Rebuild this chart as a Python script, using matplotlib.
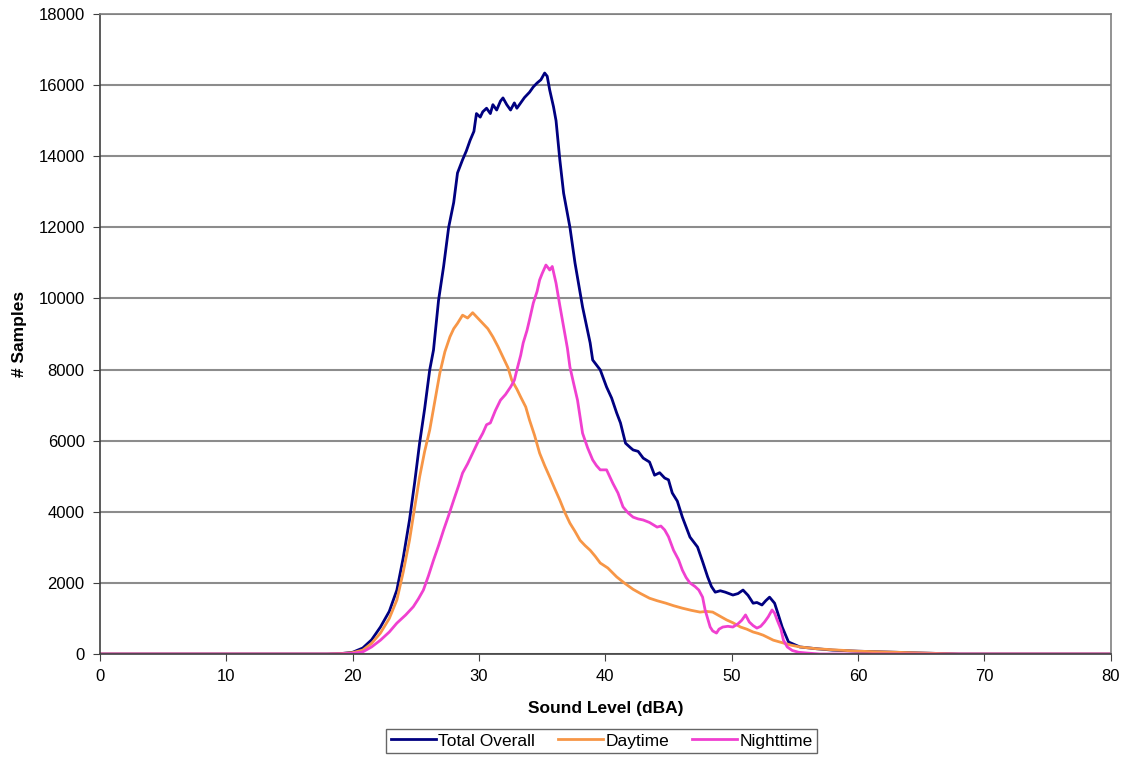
import matplotlib.pyplot as plt

plt.rcParams['font.family'] = ['Liberation Sans', 'DejaVu Sans']

# sound level (dBA) readings
total_x = [0, 18, 19, 20, 20.8, 21.5, 22.2, 22.9, 23.5, 24.0, 24.5, 24.9, 25.3, 25.7, 26.1, 26.4,
           26.8, 27.2, 27.6, 28.0, 28.3, 28.7, 29.0, 29.3, 29.6, 29.8, 30.1, 30.3, 30.6, 30.9,
           31.1, 31.4, 31.7, 31.9, 32.2, 32.5, 32.8, 33.0, 33.3, 33.6, 34.0, 34.3, 34.6, 34.9,
           35.2, 35.4, 35.6, 35.9, 36.1, 36.4, 36.7, 37.2, 37.6, 38.2, 38.8, 39.0, 39.6, 40.1,
           40.5, 40.9, 41.2, 41.6, 42.0, 42.2, 42.6, 43.0, 43.5, 43.9, 44.3, 44.7, 45.0, 45.3,
           45.7, 46.1, 46.7, 47.3, 47.7, 48.1, 48.4, 48.7, 49.1, 49.5, 49.8, 50.1, 50.5, 50.9,
           51.3, 51.7, 52.0, 52.4, 52.7, 53.0, 53.4, 53.7, 54.0, 54.5, 55.4, 56.7, 58, 60, 62,
           64, 66, 68, 80]
total_y = [0, 0, 10, 50, 170, 400, 760, 1200, 1800, 2700, 3770, 4800, 5930, 6900, 7990, 8550,
           9950, 10900, 12000, 12700, 13530, 13900, 14150, 14450, 14700, 15200, 15100, 15250,
           15350, 15200, 15450, 15300, 15550, 15640, 15450, 15300, 15500, 15350, 15500, 15650,
           15800, 15950, 16060, 16150, 16340, 16250, 15860, 15390, 15000, 13900, 12960, 12000,
           11000, 9760, 8750, 8270, 7990, 7510, 7200, 6780, 6500, 5930, 5800, 5740, 5700, 5510,
           5400, 5030, 5100, 4950, 4900, 4530, 4300, 3850, 3290, 3010, 2600, 2170, 1900, 1740,
           1780, 1740, 1700, 1660, 1700, 1800, 1650, 1430, 1450, 1380, 1500, 1600, 1430, 1100,
           760, 340, 200, 150, 110, 80, 60, 40, 20, 0, 0]

day_x = [0, 18, 19, 20, 20.8, 21.5, 22.2, 22.9, 23.5, 24.0, 24.5, 24.9, 25.3, 25.7, 26.1, 26.5,
         26.9, 27.3, 27.7, 28.0, 28.3, 28.7, 29.1, 29.5, 29.9, 30.3, 30.7, 31.1, 31.5, 31.9,
         32.3, 32.6, 33.0, 33.3, 33.7, 34.0, 34.4, 34.8, 35.2, 35.6, 36.0, 36.4, 36.8, 37.2,
         37.6, 38.0, 38.4, 38.8, 39.2, 39.6, 40.2, 40.9, 41.5, 42.2, 42.8, 43.5, 44.1, 44.8,
         45.4, 46.1, 46.8, 47.5, 48.0, 48.5, 49.0, 49.6, 50.1, 50.7, 51.2, 51.7, 52.1, 52.5,
         52.9, 53.3, 53.7, 54.1, 54.7, 55.4, 56.7, 58, 60, 62, 64, 66, 68, 80]
day_y = [0, 0, 10, 40, 110, 300, 590, 1000, 1520, 2300, 3200, 4100, 4980, 5700, 6300, 7100,
         7900, 8500, 8920, 9150, 9300, 9530, 9450, 9600, 9450, 9300, 9150, 8920, 8650, 8350,
         8050, 7700, 7450, 7230, 6950, 6580, 6150, 5650, 5300, 4980, 4650, 4330, 3980, 3680,
         3450, 3200, 3050, 2920, 2750, 2560, 2420, 2170, 2000, 1820, 1700, 1570, 1500, 1430,
         1360, 1290, 1230, 1180, 1200, 1180, 1080, 960, 880, 760, 700, 620, 580, 530, 460, 390,
         350, 310, 250, 200, 150, 120, 80, 60, 40, 20, 0, 0]

night_x = [0, 18, 19, 20, 20.8, 21.5, 22.2, 22.9, 23.5, 24.2, 24.8, 25.2, 25.6, 26.0, 26.4,
           26.8, 27.2, 27.6, 28.0, 28.4, 28.7, 29.1, 29.5, 29.9, 30.3, 30.6, 30.9, 31.3, 31.7,
           32.1, 32.5, 32.8, 33.0, 33.3, 33.5, 33.8, 34.0, 34.3, 34.6, 34.8, 35.0, 35.3, 35.5,
           35.6, 35.8, 36.1, 36.4, 36.7, 37.0, 37.2, 37.5, 37.8, 38.2, 38.6, 39.0, 39.3, 39.6,
           40.1, 40.6, 41.0, 41.4, 41.8, 42.2, 42.6, 43.0, 43.5, 44.1, 44.4, 44.7, 45.0, 45.4,
           45.8, 46.1, 46.4, 46.7, 47.1, 47.4, 47.7, 47.9, 48.1, 48.3, 48.5, 48.8, 49.0, 49.3,
           49.7, 50.1, 50.5, 50.8, 51.1, 51.4, 51.7, 52.0, 52.3, 52.6, 52.9, 53.2, 53.4, 53.6,
           53.9, 54.1, 54.4, 54.8, 55.3, 55.9, 57, 80]
night_y = [0, 0, 5, 20, 60, 200, 390, 620, 870, 1100, 1330, 1550, 1800, 2200, 2640, 3050,
           3490, 3900, 4330, 4750, 5090, 5350, 5650, 5950, 6210, 6450, 6500, 6850, 7140, 7300,
           7510, 7700, 7990, 8400, 8750, 9100, 9400, 9870, 10200, 10520, 10700, 10940, 10850,
           10800, 10900, 10430, 9800, 9200, 8600, 8070, 7600, 7140, 6210, 5800, 5460, 5300,
           5180, 5180, 4800, 4530, 4140, 3970, 3850, 3800, 3770, 3700, 3570, 3600, 3490, 3300,
           2920, 2650, 2360, 2150, 2000, 1900, 1800, 1600, 1240, 1000, 760, 650, 590, 700, 760,
           780, 760, 850, 950, 1100, 900, 800, 730, 780, 900, 1050, 1240, 1150, 960, 700, 390,
           200, 100, 50, 30, 0, 0]

fig = plt.figure(figsize=(11.31, 7.57), dpi=100)
ax = fig.add_axes([0.0884, 0.136, 0.8936, 0.8455])

ax.plot(total_x, total_y, color='#000080', lw=2, label='Total Overall')
ax.plot(day_x, day_y, color='#F79646', lw=2, label='Daytime')
ax.plot(night_x, night_y, color='#F040D0', lw=2, label='Nighttime')

ax.set_xlim(0, 80)
ax.set_ylim(0, 18000)
ax.set_xticks(range(0, 81, 10))
ax.set_yticks(range(0, 18001, 2000))
ax.yaxis.grid(True, color='#8c8c8c', lw=1.5)
ax.set_axisbelow(True)
for s in ax.spines.values():
    s.set_color('#808080')
    s.set_linewidth(1.2)
ax.spines['left'].set_color('#404040')
ax.spines['bottom'].set_color('#404040')
ax.tick_params(labelsize=12, length=5, color='#404040', pad=6)

ax.set_xlabel('Sound Level (dBA)', fontsize=12.5, fontweight='bold', labelpad=12)
ax.set_ylabel('# Samples', fontsize=12.5, fontweight='bold', labelpad=8)

leg = fig.legend(loc='lower center', bbox_to_anchor=(0.532, -0.006), ncol=3, fontsize=12.5,
                 frameon=True, fancybox=False, edgecolor='#404040', handlelength=2.6,
                 handletextpad=0.15, columnspacing=1.3, borderpad=0.25)
leg.get_frame().set_linewidth(1.0)

fig.savefig('out.png', dpi=100, facecolor='white')
